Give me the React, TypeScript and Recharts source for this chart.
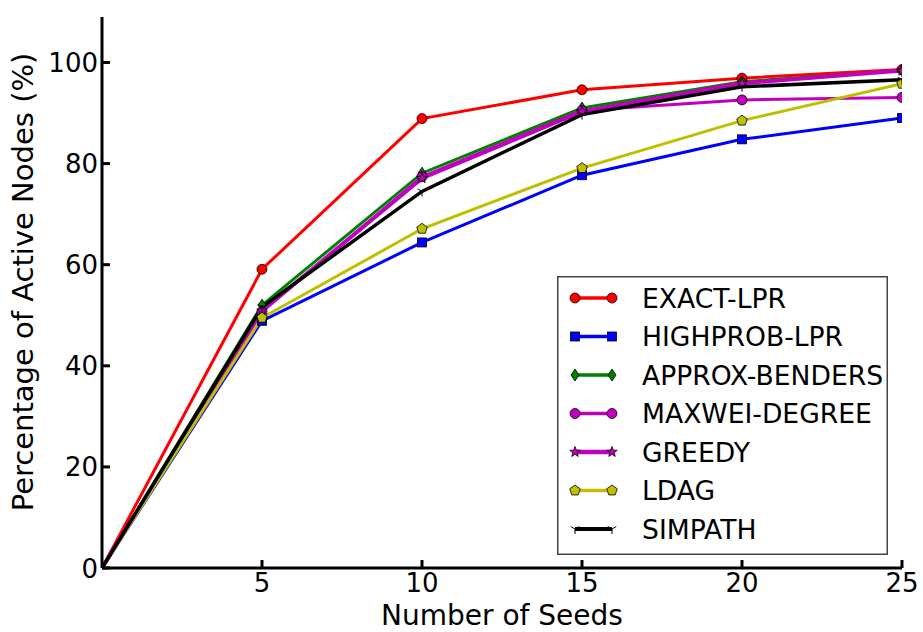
import React from "react";
import { Line, LineChart, XAxis, YAxis } from "recharts";

const FONT = "DejaVu Sans, Verdana, sans-serif";

// x values: number of seeds
const seeds = [0, 5, 10, 15, 20, 25];

// percentage of active nodes
const exactLpr = [0, 59.1, 88.9, 94.6, 96.9, 98.6];
const highprobLpr = [0, 48.9, 64.4, 77.7, 84.8, 89.0];
const approxBenders = [0, 52.0, 78.1, 91.0, 96.2, 98.4];
const maxweiDegree = [0, 50.7, 77.4, 90.5, 92.6, 93.1];
const greedy = [0, 50.9, 77.1, 90.3, 95.9, 98.4];
const ldag = [0, 49.5, 67.1, 79.1, 88.5, 95.8];
const simpath = [0, 51.6, 74.5, 89.7, 95.2, 96.6];

const xTicks = [5, 10, 15, 20, 25];
const yTicks = [0, 20, 40, 60, 80, 100];
const yTicksRight = [20, 40, 60, 80, 100];

type MarkerShape = "circle" | "square" | "diamond" | "star" | "pentagon" | "tri";

type Series = {
  key: string;
  name: string;
  values: number[];
  color: string;
  marker: MarkerShape;
  width: number;
};

const series: Series[] = [
  { key: "exact", name: "EXACT-LPR", values: exactLpr, color: "#ff0000", marker: "circle", width: 3 },
  { key: "highprob", name: "HIGHPROB-LPR", values: highprobLpr, color: "#0000ff", marker: "square", width: 3 },
  { key: "approx", name: "APPROX-BENDERS", values: approxBenders, color: "#008000", marker: "diamond", width: 3 },
  { key: "maxwei", name: "MAXWEI-DEGREE", values: maxweiDegree, color: "#bf00bf", marker: "circle", width: 3 },
  { key: "greedy", name: "GREEDY", values: greedy, color: "#bf00bf", marker: "star", width: 4 },
  { key: "ldag", name: "LDAG", values: ldag, color: "#bfbf00", marker: "pentagon", width: 3 },
  { key: "simpath", name: "SIMPATH", values: simpath, color: "#000000", marker: "tri", width: 3.5 },
];

const data = seeds.map((s, i) => {
  const row: Record<string, number> = { seeds: s };
  series.forEach((sr) => {
    row[sr.key] = sr.values[i];
  });
  return row;
});

const polygon = (cx: number, cy: number, n: number, rOut: number, rIn?: number) => {
  const pts: string[] = [];
  const steps = rIn ? n * 2 : n;
  for (let i = 0; i < steps; i++) {
    const r = rIn && i % 2 === 1 ? rIn : rOut;
    const a = -Math.PI / 2 + (i * Math.PI * 2) / steps;
    pts.push(`${cx + r * Math.cos(a)},${cy + r * Math.sin(a)}`);
  }
  return pts.join(" ");
};

const Marker = ({ shape, cx, cy, color }: { shape: MarkerShape; cx: number; cy: number; color: string }) => {
  const edge = { stroke: "#000", strokeWidth: 0.8, fill: color };
  switch (shape) {
    case "circle":
      return <circle cx={cx} cy={cy} r={5} {...edge} />;
    case "square":
      return <rect x={cx - 4.5} y={cy - 4.5} width={9} height={9} {...edge} />;
    case "diamond":
      return <polygon points={`${cx},${cy - 6} ${cx + 4},${cy} ${cx},${cy + 6} ${cx - 4},${cy}`} {...edge} />;
    case "star":
      return <polygon points={polygon(cx, cy, 5, 5.5, 2.3)} {...edge} />;
    case "pentagon":
      return <polygon points={polygon(cx, cy, 5, 5.5)} {...edge} />;
    default:
      return (
        <g stroke="#000" strokeWidth={1}>
          <line x1={cx} y1={cy} x2={cx} y2={cy + 5} />
          <line x1={cx} y1={cy} x2={cx - 4.3} y2={cy - 2.5} />
          <line x1={cx} y1={cy} x2={cx + 4.3} y2={cy - 2.5} />
        </g>
      );
  }
};

// tick renderers: inward tick marks on all four sides, labels only bottom/left
const BottomTick = (props: any) => {
  const { x, y, payload } = props;
  return (
    <g>
      <line x1={x} x2={x} y1={y} y2={y - 8} stroke="#000" strokeWidth={3} />
      <text x={x} y={y + 24} textAnchor="middle" fontSize={26} fontFamily={FONT} fill="#000">
        {payload.value}
      </text>
    </g>
  );
};

const TopTick = (props: any) => {
  const { x, y } = props;
  return <line x1={x} x2={x} y1={y} y2={y + 8} stroke="#000" strokeWidth={3} />;
};

const LeftTick = (props: any) => {
  const { x, y, payload } = props;
  return (
    <g>
      <line x1={x} x2={x + 8} y1={y} y2={y} stroke="#000" strokeWidth={3} />
      <text x={x - 4} y={y + 9.5} textAnchor="end" fontSize={26} fontFamily={FONT} fill="#000">
        {payload.value}
      </text>
    </g>
  );
};

const RightTick = (props: any) => {
  const { x, y } = props;
  return <line x1={x} x2={x - 8} y1={y} y2={y} stroke="#000" strokeWidth={3} />;
};

const LegendBox = () => {
  const rowGap = 38.5;
  return (
    <svg
      width={331}
      height={279}
      style={{ position: "absolute", left: 557, top: 276 }}
    >
      <rect x={0.75} y={0.75} width={329.5} height={277.5} fill="#fff" stroke="#444" strokeWidth={1.5} />
      {series.map((s, i) => {
        const cy = 22 + i * rowGap;
        return (
          <g key={s.key}>
            <line x1={18} x2={55} y1={cy} y2={cy} stroke={s.color} strokeWidth={s.width + 0.5} />
            <Marker shape={s.marker} cx={18} cy={cy} color={s.color} />
            <Marker shape={s.marker} cx={55} cy={cy} color={s.color} />
            <text x={85} y={cy + 9.8} fontSize={26.6} fontFamily={FONT} fill="#000">
              {s.name}
            </text>
          </g>
        );
      })}
    </svg>
  );
};

export default function App() {
  return (
    <div style={{ position: "absolute", left: 0, top: 0, width: 923, height: 632, background: "#fff" }}>
      <LineChart width={923} height={632} data={data} margin={{ top: 17, right: 21, bottom: 0, left: 12 }}>
        <XAxis
          dataKey="seeds"
          type="number"
          domain={[0, 25]}
          ticks={xTicks}
          interval={0}
          allowDataOverflow
          height={64}
          tickSize={0}
          tickMargin={0}
          tickLine={false}
          tick={<BottomTick />}
          axisLine={{ stroke: "#000", strokeWidth: 3 }}
          label={{
            content: () => (
              <text x={502} y={625} textAnchor="middle" fontSize={28} fontFamily={FONT} fill="#000">
                Number of Seeds
              </text>
            ),
          }}
        />
        <XAxis
          xAxisId="top"
          orientation="top"
          dataKey="seeds"
          type="number"
          domain={[0, 25]}
          ticks={xTicks}
          interval={0}
          allowDataOverflow
          height={0}
          tickSize={0}
          tickMargin={0}
          tickLine={false}
          tick={<TopTick />}
          axisLine={{ stroke: "#000", strokeWidth: 3 }}
        />
        <YAxis
          type="number"
          domain={[0, 109]}
          ticks={yTicks}
          interval={0}
          allowDataOverflow
          width={90}
          tickSize={0}
          tickMargin={0}
          tickLine={false}
          tick={<LeftTick />}
          axisLine={{ stroke: "#000", strokeWidth: 3 }}
          label={{
            content: () => (
              <text
                x={33}
                y={282}
                transform="rotate(-90 33 282)"
                textAnchor="middle"
                fontSize={29}
                fontFamily={FONT}
                fill="#000"
              >
                Percentage of Active Nodes (%)
              </text>
            ),
          }}
        />
        <YAxis
          yAxisId="right"
          orientation="right"
          type="number"
          domain={[0, 109]}
          ticks={yTicksRight}
          interval={0}
          allowDataOverflow
          width={0}
          tickSize={0}
          tickMargin={0}
          tickLine={false}
          tick={<RightTick />}
          axisLine={{ stroke: "#000", strokeWidth: 3 }}
        />
        {series.map((s) => (
          <Line
            key={s.key}
            dataKey={s.key}
            name={s.name}
            stroke={s.color}
            strokeWidth={s.width}
            type="linear"
            isAnimationActive={false}
            activeDot={false}
            dot={(p: any) =>
              p.payload.seeds === 0 ? (
                <g key={`${s.key}-${p.index}`} />
              ) : (
                <g key={`${s.key}-${p.index}`}>
                  <Marker shape={s.marker} cx={p.cx} cy={p.cy} color={s.color} />
                </g>
              )
            }
          />
        ))}
      </LineChart>
      <LegendBox />
    </div>
  );
}
